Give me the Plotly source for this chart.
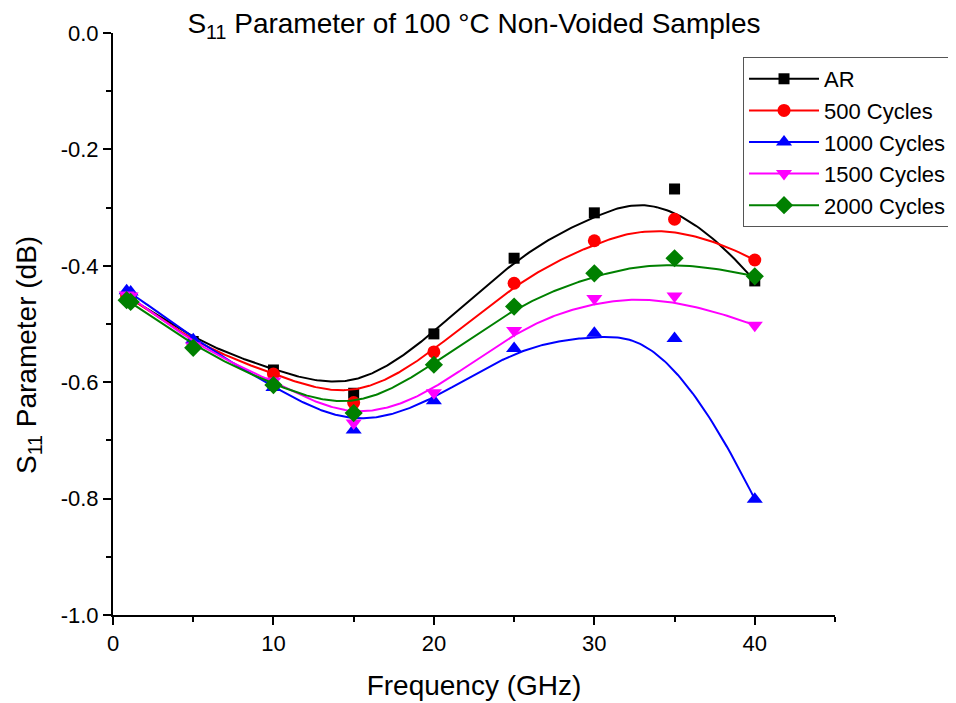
import numpy as np
import plotly.graph_objects as go

freq = [0.85, 1.1, 5, 10, 15, 20, 25, 30, 35, 40]
s11_ar = [-0.453, -0.455, -0.530, -0.579, -0.619, -0.517, -0.387, -0.309, -0.268, -0.426]
s11_500 = [-0.452, -0.455, -0.535, -0.586, -0.635, -0.548, -0.430, -0.357, -0.320, -0.390]
s11_1000 = [-0.443, -0.445, -0.527, -0.609, -0.682, -0.632, -0.542, -0.516, -0.525, -0.801]
s11_1500 = [-0.450, -0.452, -0.538, -0.598, -0.670, -0.618, -0.511, -0.456, -0.452, -0.502]
s11_2000 = [-0.459, -0.462, -0.541, -0.605, -0.653, -0.570, -0.470, -0.413, -0.387, -0.418]

series_names = ["AR", "500 Cycles", "1000 Cycles", "1500 Cycles", "2000 Cycles"]
series_values = [s11_ar, s11_500, s11_1000, s11_1500, s11_2000]
colors = ["#000000", "#FF0000", "#0000FF", "#FF00FF", "#008000"]
symbols = ["square", "circle", "triangle-up", "triangle-down", "diamond"]
marker_sizes = [11, 13, 14, 14, 14]

y_tickvals = [0.0, -0.2, -0.4, -0.6, -0.8, -1.0]
y_ticktext = ["0.0", "-0.2", "-0.4", "-0.6", "-0.8", "-1.0"]
x_tickvals = [0, 10, 20, 30, 40]
x_ticktext = ["0", "10", "20", "30", "40"]


def bspline(xs, ys, k=3, num=400):
    P = np.column_stack([xs, ys]).astype(float)
    n = len(P)
    knots = np.concatenate([np.zeros(k + 1), np.arange(1, n - k), np.full(k + 1, n - k)])
    ts = np.linspace(0, n - k, num)
    out = []
    for t in ts:
        if t >= knots[-1]:
            span = n - 1
        else:
            span = int(np.searchsorted(knots, t, side="right") - 1)
        d = [P[j + span - k].copy() for j in range(k + 1)]
        for r in range(1, k + 1):
            for j in range(k, r - 1, -1):
                i = j + span - k
                denom = knots[i + k + 1 - r] - knots[i]
                alpha = 0.0 if denom == 0 else (t - knots[i]) / denom
                d[j] = (1 - alpha) * d[j - 1] + alpha * d[j]
        out.append(d[k])
    out = np.array(out)
    return out[:, 0], out[:, 1]


fig = go.Figure()
for name, vals, c, s, ms in zip(series_names, series_values, colors, symbols, marker_sizes):
    cx, cy = bspline(freq, vals)
    fig.add_trace(go.Scatter(x=cx, y=cy, mode="lines", line=dict(color=c, width=2),
                             showlegend=False, hoverinfo="skip"))
    fig.add_trace(go.Scatter(x=freq, y=vals, mode="markers",
                             marker=dict(symbol=s, color=c, size=ms, line=dict(width=0)),
                             showlegend=False, name=name))
    fig.add_trace(go.Scatter(x=[None], y=[None], mode="lines+markers", name=name,
                             line=dict(color=c, width=2),
                             marker=dict(symbol=s, color=c, size=ms)))

font = "Arial, Liberation Sans, sans-serif"
fig.update_layout(
    width=956, height=703,
    margin=dict(l=105, r=129, t=25, b=96),
    paper_bgcolor="white", plot_bgcolor="white",
    font=dict(family=font, size=22, color="black"),
    title=dict(text="S<sub>11</sub> Parameter of 100 \u00b0C Non-Voided Samples",
               x=0.5, xref="paper", y=0.978, yanchor="middle",
               font=dict(size=28, family=font, color="black")),
    legend=dict(x=0.8726, y=0.9588, xanchor="left", yanchor="top",
                bordercolor="#555555", borderwidth=1, bgcolor="white",
                font=dict(size=22, family=font), tracegroupgap=0,
                itemwidth=70),
    xaxis=dict(range=[0, 45], tickvals=x_tickvals, ticktext=x_ticktext,
               showgrid=False, zeroline=False,
               showline=True, linecolor="black", linewidth=2,
               ticks="outside", ticklen=8, tickwidth=2, tickcolor="black",
               tickfont=dict(size=22),
               minor=dict(ticks="outside", dtick=5, tick0=0, ticklen=5, tickwidth=2, tickcolor="black"),
               title=dict(text="Frequency (GHz)", font=dict(size=28), standoff=20)),
    yaxis=dict(range=[-1, 0], tickvals=y_tickvals, ticktext=y_ticktext,
               showgrid=False, zeroline=False, showline=True, linecolor="black", linewidth=2,
               ticks="outside", ticklen=8, tickwidth=2, tickcolor="black",
               tickfont=dict(size=22),
               minor=dict(ticks="outside", dtick=0.1, tick0=0, ticklen=5, tickwidth=2, tickcolor="black")),
    annotations=[dict(text="S<sub>11</sub> Parameter (dB)", textangle=-90,
                      xref="paper", yref="paper", x=-0.1177, y=0.4467,
                      xanchor="center", yanchor="middle", showarrow=False,
                      font=dict(size=28, family=font, color="black"))],
)

fig.write_html("out.html")
